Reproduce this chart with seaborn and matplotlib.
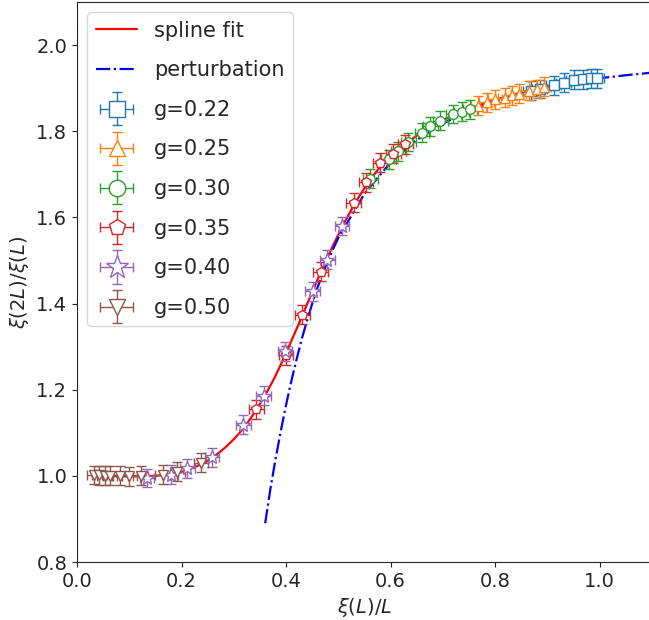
import numpy as np
import matplotlib
matplotlib.use("Agg")
import matplotlib.pyplot as plt
import seaborn as sns
from matplotlib.legend_handler import HandlerErrorbar
from matplotlib.container import ErrorbarContainer

sns.set_style("ticks")
plt.rcParams['font.family'] = ['DejaVu Sans']

# spline fit
spline_x = [0.03, 0.05, 0.10, 0.15, 0.18, 0.20, 0.2125, 0.225, 0.2375, 0.25, 0.2625, 0.275,
            0.2875, 0.30, 0.3125, 0.325,
            0.3375, 0.35, 0.3625, 0.375, 0.3875, 0.40, 0.4125, 0.425, 0.4375, 0.45,
            0.4625, 0.475, 0.4875, 0.50, 0.5125, 0.525, 0.5375, 0.55, 0.5625, 0.575,
            0.5875, 0.60, 0.625, 0.65, 0.675, 0.70, 0.75, 0.80, 0.85, 0.90, 0.95]
spline_y = [1.000, 1.000, 0.999, 1.000, 1.004, 1.009, 1.014, 1.020, 1.027, 1.035, 1.045, 1.057,
            1.070, 1.085, 1.102, 1.121,
            1.143, 1.167, 1.193, 1.221, 1.252, 1.285, 1.320, 1.355, 1.391, 1.427,
            1.462, 1.496, 1.529, 1.560, 1.590, 1.618, 1.644, 1.668, 1.690, 1.710,
            1.727, 1.742, 1.768, 1.790, 1.809, 1.826, 1.852, 1.873, 1.890, 1.904, 1.916]

# perturbation curve
pert_x = [0.36, 0.37, 0.38, 0.39, 0.40, 0.41, 0.42, 0.43, 0.44, 0.45, 0.46, 0.48, 0.50,
          0.55, 0.60, 0.65, 0.70, 0.75, 0.80, 0.85, 0.90, 0.95, 1.00, 1.05, 1.10]
pert_y = [0.890, 0.970, 1.040, 1.105, 1.165, 1.220, 1.270, 1.318, 1.360, 1.400, 1.437, 1.500, 1.553,
          1.655, 1.728, 1.780, 1.818, 1.847, 1.869, 1.887, 1.901, 1.913, 1.923, 1.930, 1.936]

# data points per coupling
g022_x = [0.868, 0.885, 0.912, 0.931, 0.950, 0.968, 0.984, 0.994]
g022_y = [1.894, 1.898, 1.907, 1.913, 1.919, 1.921, 1.923, 1.923]
g025_x = [0.768, 0.784, 0.800, 0.819, 0.832, 0.845, 0.864, 0.880, 0.893]
g025_y = [1.859, 1.867, 1.874, 1.878, 1.884, 1.887, 1.894, 1.898, 1.903]
g030_x = [0.561, 0.596, 0.615, 0.634, 0.660, 0.676, 0.695, 0.720, 0.736, 0.752]
g030_y = [1.690, 1.735, 1.754, 1.775, 1.797, 1.812, 1.824, 1.840, 1.845, 1.851]
g035_x = [0.343, 0.400, 0.431, 0.466, 0.529, 0.553, 0.580, 0.605, 0.628]
g035_y = [1.155, 1.280, 1.374, 1.474, 1.634, 1.681, 1.727, 1.748, 1.770]
g040_x = [0.134, 0.179, 0.211, 0.258, 0.318, 0.357, 0.398, 0.451, 0.479, 0.507]
g040_y = [0.995, 1.003, 1.018, 1.043, 1.119, 1.186, 1.289, 1.429, 1.502, 1.580]
g050_x = [0.033, 0.043, 0.053, 0.063, 0.083, 0.100, 0.122, 0.164, 0.192, 0.237]
g050_y = [1.002, 1.001, 1.000, 1.000, 1.000, 0.999, 1.000, 1.003, 1.010, 1.030]

series = [
    ("g=0.22", g022_x, g022_y, "s", "C0", 6.5),
    ("g=0.25", g025_x, g025_y, "^", "C1", 7),
    ("g=0.30", g030_x, g030_y, "o", "C2", 7),
    ("g=0.35", g035_x, g035_y, "p", "C3", 7),
    ("g=0.40", g040_x, g040_y, "*", "C4", 10),
    ("g=0.50", g050_x, g050_y, "v", "C5", 7),
]
x_err = 0.014
y_err = 0.022

fig = plt.figure(figsize=(6.49, 6.2), dpi=100)
ax = fig.add_axes([77 / 649, 58 / 620, 575 / 649, 560 / 620])

sns.lineplot(x=spline_x, y=spline_y, color="red", lw=1.6, sort=False,
             label="spline fit", ax=ax)
sns.lineplot(x=pert_x, y=pert_y, color="blue", lw=1.6, ls="-.", sort=False,
             label="perturbation", ax=ax)

for lab, xs, ys, mk, col, size in series:
    ax.errorbar(xs, ys, xerr=x_err, yerr=y_err, fmt=mk, color=col, mfc="white",
                mec=col, ms=size, mew=1, capsize=3.5, elinewidth=1, label=lab)

ax.set_xlim(0, 1.1)
ax.set_ylim(0.8, 2.1)
ax.set_xticks([0.0, 0.2, 0.4, 0.6, 0.8, 1.0])
ax.set_yticks([0.8, 1.0, 1.2, 1.4, 1.6, 1.8, 2.0])
ax.tick_params(labelsize=14)
ax.set_xlabel(r"$\xi(L)/L$", fontsize=14)
ax.set_ylabel(r"$\xi(2L)/\xi(L)$", fontsize=14)

ax.legend(loc="upper left", fontsize=15, markerscale=1.7, labelspacing=0.94,
          handler_map={ErrorbarContainer: HandlerErrorbar(xerr_size=0.8)})

fig.savefig("out.png", dpi=100)
